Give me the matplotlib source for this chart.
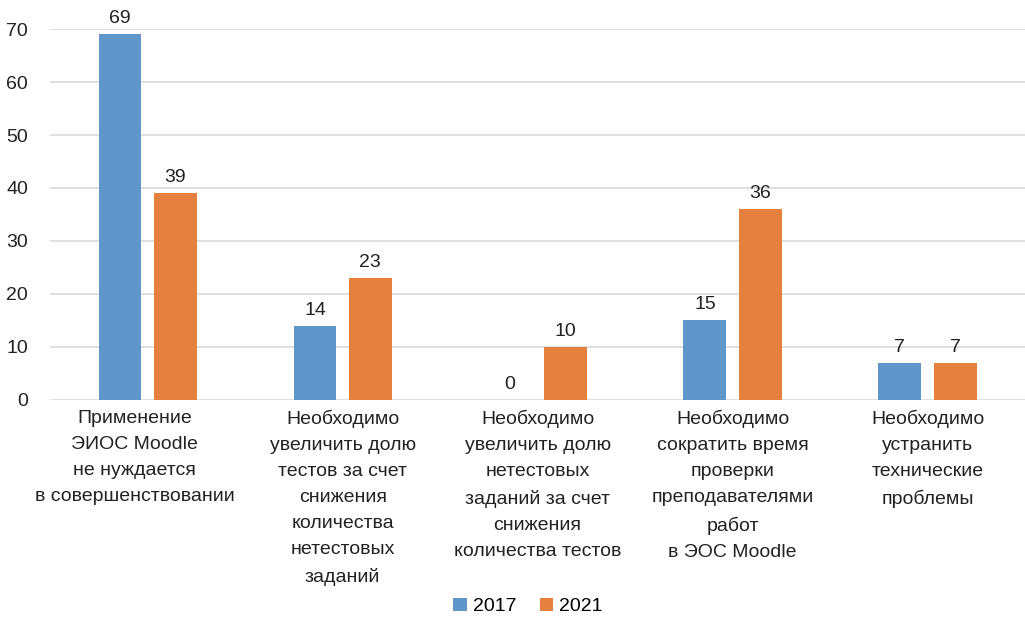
import numpy as np
import matplotlib.pyplot as plt
import matplotlib.transforms as mtransforms

# Данные
categories = [
    "Применение\nЭИОС Moodle\nне нуждается\nв совершенствовании",
    "Необходимо\nувеличить долю\nтестов за счет\nснижения\nколичества\nнетестовых\nзаданий",
    "Необходимо\nувеличить долю\nнетестовых\nзаданий за счет\nснижения\nколичества тестов",
    "Необходимо\nсократить время\nпроверки\nпреподавателями\nработ\nв ЭОС Moodle",
    "Необходимо\nустранить\nтехнические\nпроблемы",
]
values_2017 = [69, 14, 0, 15, 7]
values_2021 = [39, 23, 10, 36, 7]
years = ["2017", "2021"]

plt.rcParams['font.family'] = ['Liberation Sans', 'DejaVu Sans']
fs = 14

fig = plt.figure(figsize=(10.25, 6.19), dpi=100)
ax = fig.add_axes([0.049, 0.354, 0.951, 0.599])

x = np.arange(len(categories))
w = 0.22
off = 0.142
b1 = ax.bar(x - off, values_2017, w, color="#5F97CB", label=years[0], zorder=3)
b2 = ax.bar(x + off, values_2021, w, color="#E5803F", label=years[1], zorder=3)

# подписи значений
for bars in (b1, b2):
    for r in bars:
        ax.annotate(str(int(r.get_height())),
                    (r.get_x() + r.get_width() / 2, r.get_height()),
                    xytext=(0, 5), textcoords="offset points",
                    ha="center", va="bottom", fontsize=fs, color="#222222")

ax.set_xlim(-0.5, len(categories) - 0.5)
ax.set_ylim(0, 70)
ax.set_yticks(range(0, 71, 10))
ax.yaxis.grid(True, color="#D9D9D9", linewidth=1.2, zorder=0)
ax.set_xticks(x)
ax.set_xticklabels(categories, fontsize=fs, color="#222222", linespacing=1.7)
ax.tick_params(axis="x", length=0, pad=7)
ax.tick_params(axis="y", length=0, pad=16, labelsize=fs, labelcolor="#222222")
for s in ax.spines.values():
    s.set_visible(False)

# первая подпись в оригинале немного смещена влево
lbl = ax.get_xticklabels()[0]
lbl.set_transform(lbl.get_transform() + mtransforms.ScaledTranslation(-0.13, 0, fig.dpi_scale_trans))

fig.legend(loc="lower center", bbox_to_anchor=(0.515, -0.022), ncol=2, frameon=False,
           fontsize=fs, handlelength=0.7, handleheight=0.7, columnspacing=1.2,
           handletextpad=0.3)

plt.savefig("out.png", dpi=100)
